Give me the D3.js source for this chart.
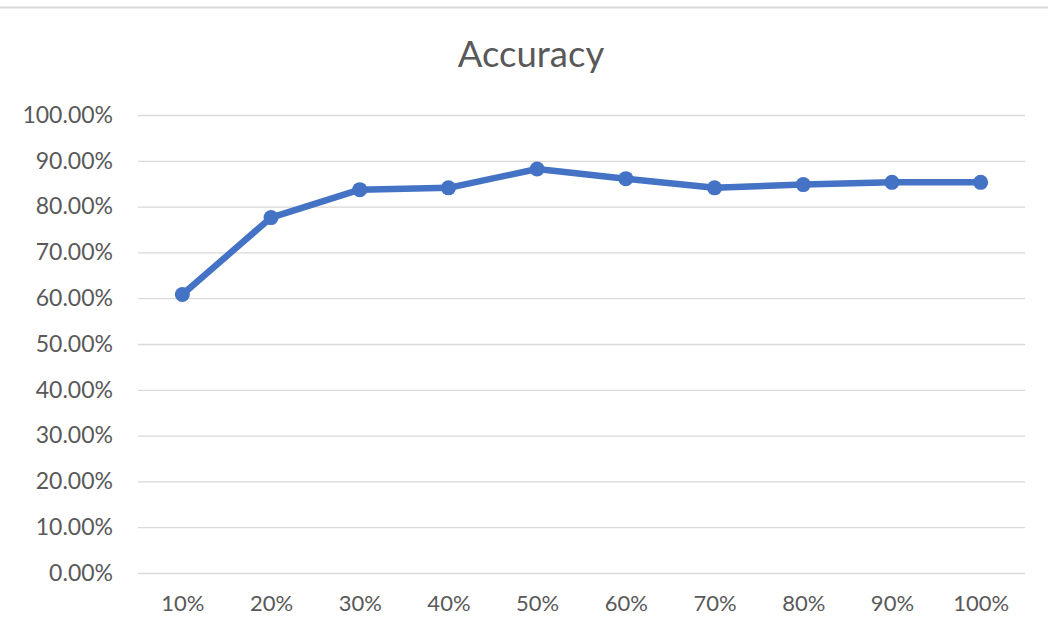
<!DOCTYPE html>
<html>
<head>
<meta charset="utf-8">
<script src="https://cdn.jsdelivr.net/npm/d3@7"></script>
<style>
  html, body { margin: 0; padding: 0; background: #fff; }
  svg { display: block; }
  text { font-family: Lato, "Open Sans", sans-serif; fill: #595959; }
</style>
</head>
<body>
<svg id="chart" width="1048" height="638"></svg>
<script>
// Accuracy per training-data fraction
const categories = ["10%", "20%", "30%", "40%", "50%", "60%", "70%", "80%", "90%", "100%"];
const accuracy = [60.8, 77.6, 83.7, 84.1, 88.2, 86.1, 84.1, 84.8, 85.3, 85.3];
const yTicks = [0, 10, 20, 30, 40, 50, 60, 70, 80, 90, 100];
const title = "Accuracy";

const width = 1048, height = 638;
const margin = { top: 115, right: 23, bottom: 65, left: 138 };

const svg = d3.select("#chart");

// frame edge across the top
svg.append("line")
  .attr("x1", 0).attr("x2", width)
  .attr("y1", 7.5).attr("y2", 7.5)
  .attr("stroke", "#d9d9d9").attr("stroke-width", 2);

const x = d3.scalePoint()
  .domain(categories)
  .range([margin.left, width - margin.right])
  .padding(0.5);

const y = d3.scaleLinear()
  .domain([0, 100])
  .range([height - margin.bottom, margin.top]);

// horizontal gridlines + y labels
const yAxis = d3.axisLeft(y)
  .tickValues(yTicks)
  .tickSize(-(width - margin.left - margin.right))
  .tickPadding(25)
  .tickFormat(d => d.toFixed(2) + "%");

const gy = svg.append("g")
  .attr("transform", `translate(${margin.left},0)`)
  .call(yAxis);
gy.select(".domain").remove();
gy.selectAll(".tick line").attr("stroke", "#d9d9d9").attr("stroke-width", 1.3);
gy.selectAll(".tick text")
  .attr("font-size", 23)
  .style("font-family", "Lato, 'Open Sans', sans-serif")
  .attr("fill", "#595959");

// category labels
const xAxis = d3.axisBottom(x).tickSize(0).tickPadding(22);
const gx = svg.append("g")
  .attr("transform", `translate(0,${height - margin.bottom})`)
  .call(xAxis);
gx.select(".domain").remove();
gx.selectAll(".tick text")
  .attr("font-size", 22)
  .style("font-family", "Lato, 'Open Sans', sans-serif")
  .attr("fill", "#595959");

// title
svg.append("text")
  .attr("x", 531).attr("y", 67)
  .attr("text-anchor", "middle")
  .attr("font-size", 36.5)
  .text(title);

// series line and markers
const pts = categories.map((c, i) => ({ c, v: accuracy[i] }));
const line = d3.line().x(d => x(d.c)).y(d => y(d.v));

svg.append("path")
  .datum(pts)
  .attr("d", line)
  .attr("fill", "none")
  .attr("stroke", "#4472c4")
  .attr("stroke-width", 6.5)
  .attr("stroke-linejoin", "round")
  .attr("stroke-linecap", "round");

svg.selectAll("circle.pt")
  .data(pts)
  .join("circle")
  .attr("class", "pt")
  .attr("cx", d => x(d.c))
  .attr("cy", d => y(d.v))
  .attr("r", 7.5)
  .attr("fill", "#4472c4");
</script>
</body>
</html>
